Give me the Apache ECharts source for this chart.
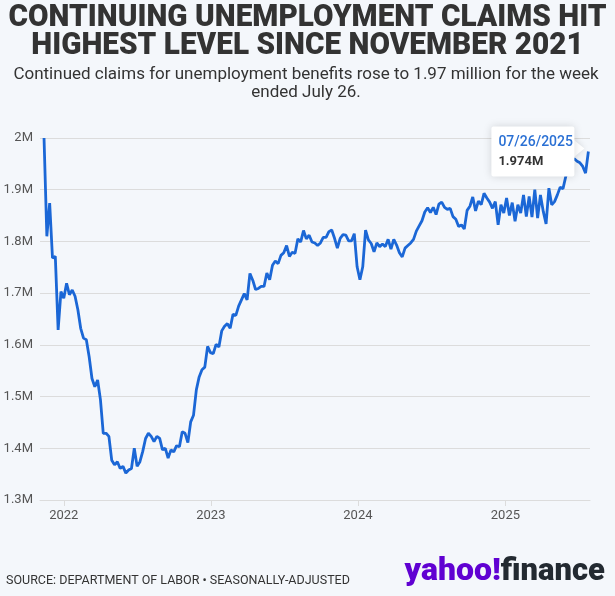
<!DOCTYPE html>
<html>
<head>
<meta charset="utf-8">
<script src="https://cdn.jsdelivr.net/npm/echarts@6/dist/echarts.min.js"></script>
</head>
<body style="margin:0;background:#f4f7fb">
<div id="container" style="width:615px;height:596px"></div>
<script>
// weekly continuing claims (millions), first week ended Nov 13 2021, last Jul 26 2025
var firstWeek = [2021, 10, 13];
var claims = [
  2.0, 1.810, 1.874, 1.768, 1.771, 1.629, 1.703, 1.690, 1.719, 1.697,
  1.706, 1.694, 1.668, 1.632, 1.613, 1.610, 1.577, 1.535, 1.519, 1.532,
  1.494, 1.429, 1.429, 1.423, 1.377, 1.368, 1.374, 1.361, 1.365, 1.352,
  1.358, 1.361, 1.400, 1.365, 1.374, 1.394, 1.419, 1.429, 1.423, 1.413,
  1.423, 1.419, 1.397, 1.400, 1.381, 1.397, 1.393, 1.405, 1.403, 1.432,
  1.429, 1.411, 1.451, 1.464, 1.513, 1.538, 1.552, 1.557, 1.597, 1.585,
  1.583, 1.601, 1.596, 1.627, 1.636, 1.641, 1.632, 1.659, 1.657, 1.675,
  1.687, 1.699, 1.687, 1.738, 1.725, 1.707, 1.709, 1.713, 1.713, 1.739,
  1.726, 1.754, 1.762, 1.757, 1.773, 1.778, 1.792, 1.771, 1.779, 1.777,
  1.805, 1.799, 1.821, 1.805, 1.812, 1.799, 1.797, 1.792, 1.797, 1.808,
  1.808, 1.819, 1.822, 1.806, 1.787, 1.806, 1.813, 1.812, 1.801, 1.801,
  1.815, 1.751, 1.726, 1.751, 1.822, 1.803, 1.796, 1.780, 1.797, 1.790,
  1.795, 1.790, 1.804, 1.785, 1.804, 1.793, 1.778, 1.770, 1.787, 1.792,
  1.797, 1.804, 1.820, 1.830, 1.840, 1.857, 1.865, 1.856, 1.866, 1.852,
  1.872, 1.876, 1.866, 1.862, 1.864, 1.848, 1.843, 1.829, 1.832, 1.824,
  1.860, 1.868, 1.886, 1.859, 1.878, 1.871, 1.893, 1.884, 1.876, 1.864,
  1.877, 1.832, 1.871, 1.855, 1.884, 1.850, 1.875, 1.839, 1.871, 1.855,
  1.890, 1.848, 1.887, 1.847, 1.900, 1.845, 1.890, 1.858, 1.834, 1.903,
  1.871, 1.877, 1.890, 1.905, 1.902, 1.926, 1.940, 1.955, 1.960, 1.955,
  1.952, 1.945, 1.932, 1.974
];
var yMin = 1.3, yMax = 2.0, yStep = 0.1;
var titleLines = ['CONTINUING UNEMPLOYMENT CLAIMS HIT', 'HIGHEST LEVEL SINCE NOVEMBER 2021'];
var subtitleLines = ['Continued claims for unemployment benefits rose to 1.97 million for the week', 'ended July 26.'];
var source = 'SOURCE: DEPARTMENT OF LABOR \u2022 SEASONALLY-ADJUSTED';

var seriesData = claims.map(function (v, i) {
    return [new Date(firstWeek[0], firstWeek[1], firstWeek[2] + 7 * i).getTime(), v];
});

var chart = echarts.init(document.getElementById('container'));
var font = 'Roboto';

var option = {
    backgroundColor: '#f4f7fb',
    animation: false,
    grid: { left: 40, right: 25, top: 138, bottom: 96 },
    xAxis: {
        type: 'time',
        min: new Date(2021, 10, 3).getTime(),
        max: new Date(2025, 6, 30).getTime(),
        minInterval: 365 * 24 * 3600 * 1000,
        axisLine: { lineStyle: { color: '#dcdcdc' } },
        axisTick: { show: true, length: 6, lineStyle: { color: '#dcdcdc' } },
        splitLine: { show: false },
        axisLabel: {
            color: '#555', fontFamily: font, fontSize: 13, margin: 9,
            formatter: function (v) { return String(new Date(v).getFullYear()); }
        }
    },
    yAxis: {
        type: 'value',
        min: yMin, max: yMax, interval: yStep,
        axisLine: { show: false },
        axisTick: { show: false },
        splitLine: { lineStyle: { color: '#dcdcdc' } },
        axisLabel: {
            color: '#555', fontFamily: font, fontSize: 13, margin: 7,
            formatter: function (v) { return parseFloat(v.toFixed(1)) + 'M'; }
        }
    },
    series: [{
        type: 'line',
        data: seriesData,
        showSymbol: false,
        lineStyle: { color: '#1b67d6', width: 2.8 },
        itemStyle: { color: '#1b67d6' }
    }],
    graphic: [
        { type: 'text', x: 307.5, y: 18, scaleX: 0.93,
          style: { text: titleLines[0], font: '900 32px Roboto', fill: '#333', textAlign: 'center', textVerticalAlign: 'middle' } },
        { type: 'text', x: 307.5, y: 46, scaleX: 0.93,
          style: { text: titleLines[1], font: '900 32px Roboto', fill: '#333', textAlign: 'center', textVerticalAlign: 'middle' } },
        { type: 'text', x: 306, y: 75,
          style: { text: subtitleLines[0], font: '17px Roboto', fill: '#333', textAlign: 'center', textVerticalAlign: 'middle' } },
        { type: 'text', x: 306, y: 93,
          style: { text: subtitleLines[1], font: '17px Roboto', fill: '#333', textAlign: 'center', textVerticalAlign: 'middle' } },
        { type: 'text', x: 6, y: 581,
          style: { text: source, font: '12.5px Roboto', fill: '#333', textVerticalAlign: 'middle' } },
        { type: 'text', x: 605, y: 572,
          style: {
            text: '{a|yahoo!}{b|finance}', textAlign: 'right', textVerticalAlign: 'middle',
            rich: {
                a: { fontFamily: font, fontWeight: 900, fontSize: 32, fill: '#6001d2', color: '#6001d2' },
                b: { fontFamily: font, fontWeight: 900, fontSize: 31, fill: '#232a31', color: '#232a31' }
            }
          } }
    ]
};
chart.setOption(option);

// callout box for the latest week, anchored to the last point
var last = seriesData[seriesData.length - 1];
var pt = chart.convertToPixel({ gridIndex: 0 }, last);
var d = new Date(last[0]);
function pad(n) { return (n < 10 ? '0' : '') + n; }
var dateText = pad(d.getMonth() + 1) + '/' + pad(d.getDate()) + '/' + d.getFullYear();
var bx = pt[0] - 97, by = pt[1] - 25;
chart.setOption({
    graphic: option.graphic.concat([
        { type: 'polygon', z: 100,
          shape: { points: [[bx + 82, pt[1] - 12], [pt[0] - 4, pt[1] - 3], [bx + 82, pt[1] + 6]] },
          style: { fill: '#fff', shadowBlur: 6, shadowColor: 'rgba(0,0,0,0.12)' } },
        { type: 'rect', z: 100,
          shape: { x: bx, y: by, width: 83, height: 50, r: 2 },
          style: { fill: '#fff', shadowBlur: 8, shadowColor: 'rgba(0,0,0,0.15)' } },
        { type: 'text', z: 101, x: bx + 7, y: pt[1] - 9,
          style: { text: dateText, font: '500 14px Roboto', fill: '#2a70d4', textVerticalAlign: 'middle' } },
        { type: 'text', z: 101, x: bx + 7, y: pt[1] + 10,
          style: { text: last[1].toFixed(3) + 'M', font: 'bold 13px Roboto', fill: '#333', textVerticalAlign: 'middle' } }
    ])
});
</script>
</body>
</html>
